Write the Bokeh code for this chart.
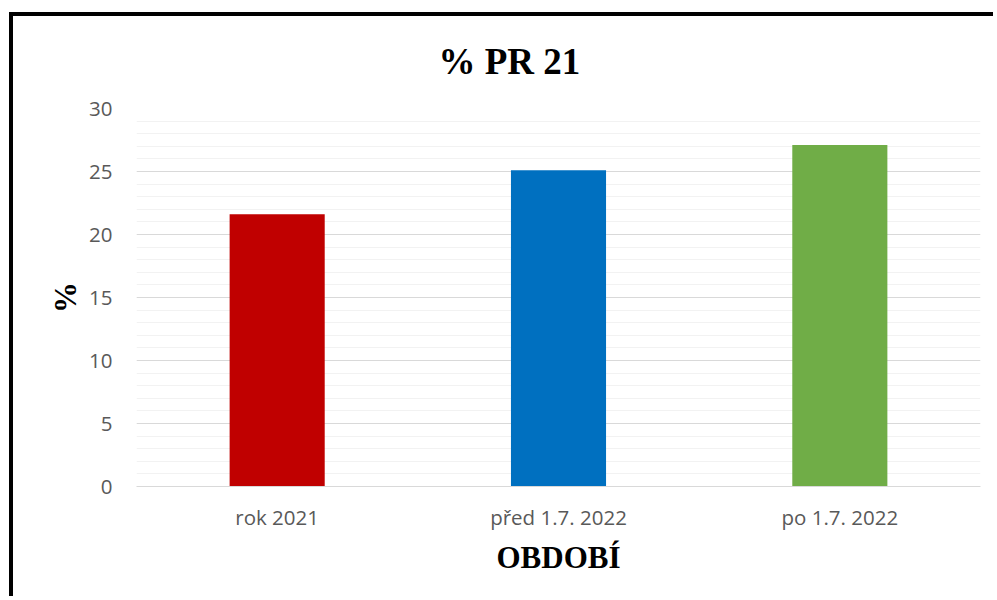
from bokeh.plotting import figure
from bokeh.models import Range1d, Title, SingleIntervalTicker
from bokeh.embed import file_html
from bokeh.resources import INLINE

categories = ["rok 2021", "před 1.7. 2022", "po 1.7. 2022"]
values = [21.6, 25.1, 27.1]
colors = ["#C00000", "#0070C0", "#70AD47"]
title_text = "% PR 21"

W, H = 984, 584
p = figure(x_range=categories, y_range=Range1d(0, 30), width=W, height=H,
           output_backend="svg", toolbar_location=None,
           min_border_left=123, min_border_right=17, min_border_top=92, min_border_bottom=114)
p.margin = (12, 0, 0, 9)
p.styles = {"border-left": "4px solid black", "border-top": "4px solid black"}

p.vbar(x=categories, top=values, width=0.338, fill_color=colors, line_color=None)

p.outline_line_color = None
p.background_fill_color = "white"
p.border_fill_color = "white"

p.title.text = ""
t = Title(text=title_text, align="left", offset=302, standoff=49, vertical_align="top",
          text_font="Liberation Serif", text_font_size="37px", text_font_style="bold",
          text_color="black")
p.add_layout(t, "above")

p.yaxis.ticker = SingleIntervalTicker(interval=5, num_minor_ticks=5)
p.ygrid.grid_line_color = "#D9D9D9"
p.ygrid.grid_line_width = 1
p.ygrid.minor_grid_line_color = "#F2F2F2"
p.ygrid.minor_grid_line_width = 1
p.xgrid.grid_line_color = None

p.yaxis.axis_line_color = None
p.yaxis.major_tick_line_color = None
p.yaxis.minor_tick_line_color = None
p.yaxis.major_label_text_font = "Open Sans"
p.yaxis.major_label_text_font_size = "20.5px"
p.yaxis.major_label_text_color = "#595959"
p.yaxis.major_label_standoff = 18
p.yaxis.axis_label = "%"
p.yaxis.axis_label_text_font = "Liberation Serif"
p.yaxis.axis_label_text_font_size = "31px"
p.yaxis.axis_label_text_font_style = "bold"
p.yaxis.axis_label_text_color = "black"
p.yaxis.axis_label_standoff = 3

p.xaxis.axis_line_color = "#D9D9D9"
p.xaxis.axis_line_width = 1
p.xaxis.major_tick_line_color = None
p.xaxis.minor_tick_line_color = None
p.xaxis.major_label_text_font = "Open Sans"
p.xaxis.major_label_text_font_size = "20.5px"
p.xaxis.major_label_text_color = "#595959"
p.xaxis.major_label_standoff = 10
p.xaxis.axis_label = "OBDOBÍ"
p.xaxis.axis_label_text_font = "Liberation Serif"
p.xaxis.axis_label_text_font_size = "31px"
p.xaxis.axis_label_text_font_style = "bold"
p.xaxis.axis_label_text_color = "black"
p.xaxis.axis_label_standoff = 6

open("out.html", "w").write(file_html(p, INLINE))
